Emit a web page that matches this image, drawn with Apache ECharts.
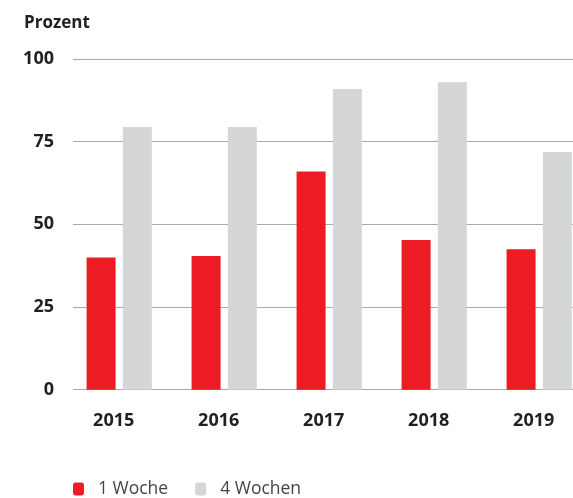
<!DOCTYPE html>
<html>
<head>
<meta charset="utf-8">
<script src="https://cdn.jsdelivr.net/npm/echarts@6/dist/echarts.min.js"></script>
<style>
html,body{margin:0;padding:0;background:#fff;overflow:hidden;width:573px;height:498px;}
#chart{width:592px;height:498px;}
</style>
</head>
<body>
<div id="chart"></div>
<script>
const categories = ['2015', '2016', '2017', '2018', '2019'];
const oneWeek = [40, 40.4, 66, 45.3, 42.5];
const fourWeeks = [79.4, 79.4, 90.9, 93, 71.9];
const seriesNames = ['1 Woche', '4 Wochen'];
const yTicks = [0, 25, 50, 75, 100];

const FONT = '"Open Sans", sans-serif';
const TEXT = '#231F20';

const chart = echarts.init(document.getElementById('chart'));
chart.setOption({
  animation: false,
  title: {
    text: 'Prozent',
    left: 19,
    top: 10,
    textStyle: { fontFamily: FONT, fontSize: 17, fontWeight: 'bold', color: TEXT }
  },
  legend: {
    data: seriesNames,
    left: 68,
    top: 475,
    itemWidth: 11,
    itemHeight: 13,
    itemGap: 27,
    icon: 'roundRect',
    textStyle: { fontFamily: FONT, fontSize: 17.5, color: '#444', padding: [0, 0, 0, 9] }
  },
  grid: [
    { left: 66.7, width: 525, top: 59, bottom: 108.3 },
    { left: 73, right: 19, top: 59, bottom: 108.3 }
  ],
  xAxis: [
    {
      type: 'category', gridIndex: 0, data: categories,
      axisLine: { show: false }, axisTick: { show: false },
      axisLabel: {
        margin: 22, padding: [0, 11, 0, 0],
        fontFamily: FONT, fontSize: 18, fontWeight: 'bold', color: TEXT
      }
    },
    { type: 'value', gridIndex: 1, show: false, min: 0, max: 1 }
  ],
  yAxis: [
    {
      type: 'value', gridIndex: 0, min: 0, max: 100, interval: 25,
      axisLabel: { show: false }, splitLine: { show: false },
      axisLine: { show: false }, axisTick: { show: false }
    },
    {
      type: 'value', gridIndex: 1, min: yTicks[0], max: yTicks[yTicks.length - 1], interval: 25,
      axisLine: { show: false }, axisTick: { show: false },
      splitLine: { show: true, lineStyle: { color: '#A8A9AD', width: 1 } },
      axisLabel: { margin: 19, fontFamily: FONT, fontSize: 18, fontWeight: 'bold', color: TEXT }
    }
  ],
  series: [
    {
      name: seriesNames[0], type: 'bar', xAxisIndex: 0, yAxisIndex: 0,
      data: oneWeek, barWidth: 29, barGap: '25%', z: 3,
      itemStyle: { color: '#ED1C24' }
    },
    {
      name: seriesNames[1], type: 'bar', xAxisIndex: 0, yAxisIndex: 0,
      data: fourWeeks, barWidth: 29, barGap: '25%', z: 3,
      itemStyle: { color: '#D5D6D8' }
    }
  ]
});
</script>
</body>
</html>
